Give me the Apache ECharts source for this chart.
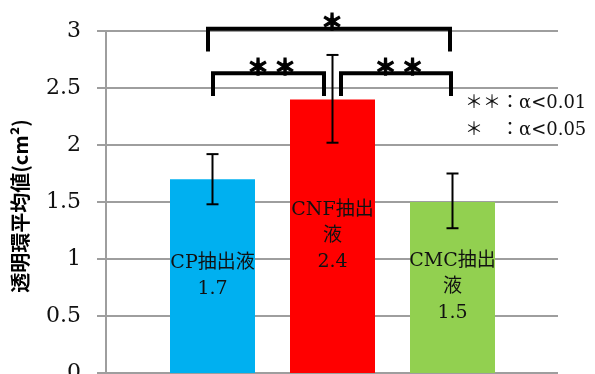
<!DOCTYPE html>
<html>
<head>
<meta charset="utf-8">
<script src="https://cdn.jsdelivr.net/npm/echarts@6/dist/echarts.min.js"></script>
<style>html,body{margin:0;padding:0;background:#fff;}#c{width:595px;height:374px;}</style>
</head>
<body>
<div id="c"></div>
<script>
// ---- data ----
var categories = ['CP抽出液', 'CNF抽出液', 'CMC抽出液'];
var values = [1.7, 2.4, 1.5];
var errLow = [1.48, 2.02, 1.27];
var errHigh = [1.92, 2.79, 1.75];
var barColors = ['#00B0F0', '#FF0000', '#92D050'];
var yTicks = [0, 0.5, 1, 1.5, 2, 2.5, 3];
// significance brackets: [fromIndex, toIndex, topValue, legValue]
var brackets = [[0, 2, 3.02, 2.82], [0, 1, 2.63, 2.43], [1, 2, 2.63, 2.43]];
var bracketMarks = ['＊', '＊ ＊', '＊ ＊'];
var legendLines = ['＊＊：α<0.01', '＊　：α<0.05'];

// ---- styling (pixel offsets of bracket ends) ----
var bracketOffsets = [[-4.5, -2.5], [0.5, -8.5], [8.5, -1.5]];

var serif = '"DejaVu Serif", "Liberation Serif", "Noto Sans CJK JP", serif';
var chart = echarts.init(document.getElementById('c'), null, {renderer: 'canvas'});

var option = {
  animation: false,
  grid: [
    {left: 106, top: 31, width: 452, height: 342, outerBoundsMode: 'none', containLabel: false},
    {left: 152.5, top: 31, width: 360, height: 342, outerBoundsMode: 'none', containLabel: false}
  ],
  xAxis: [
    {gridIndex: 0, type: 'value', min: 0, max: 1, show: false},
    {gridIndex: 1, type: 'category', data: categories, show: false}
  ],
  yAxis: [
    {
      gridIndex: 0, type: 'value', min: yTicks[0], max: yTicks[yTicks.length - 1], interval: 0.5,
      name: '透明環平均値(cm²)', nameLocation: 'middle', nameRotate: 90, nameGap: 76,
      nameTextStyle: {fontFamily: '"Noto Sans CJK JP", sans-serif', fontWeight: 'bold', fontSize: 20, color: '#000', padding: [0, 8, 0, 0]},
      axisLine: {show: true, lineStyle: {color: '#9e9e9e', width: 2}},
      axisTick: {show: true, length: 9, lineStyle: {color: '#9e9e9e', width: 2}},
      axisLabel: {margin: 25, fontFamily: serif, fontSize: 22, color: '#111',
        formatter: function (v) { return String(v); }},
      splitLine: {show: true, lineStyle: {color: '#9e9e9e', width: 2}}
    },
    {gridIndex: 1, type: 'value', min: 0, max: 3, show: false}
  ],
  graphic: [
    {type: 'text', left: 465, top: 94, style: {text: legendLines[0], font: '18px ' + serif, fill: '#111'}},
    {type: 'text', left: 465, top: 121, style: {text: legendLines[1], font: '18px ' + serif, fill: '#111'}}
  ],
  series: [
    {
      type: 'bar', xAxisIndex: 1, yAxisIndex: 1, barWidth: 85,
      data: values.map(function (v, i) { return {value: v, itemStyle: {color: barColors[i]}}; }),
      label: {
        show: true, position: 'inside', color: '#111', fontFamily: serif, fontSize: 19,
        lineHeight: 26, width: 92, overflow: 'break', align: 'center',
        formatter: function (p) { return categories[p.dataIndex] + '\n' + values[p.dataIndex]; }
      }
    },
    {
      type: 'custom', xAxisIndex: 1, yAxisIndex: 1, z: 10,
      data: categories.map(function (c, i) { return [i, errLow[i], errHigh[i]]; }),
      renderItem: function (params, api) {
        var lo = api.coord([api.value(0), api.value(1)]);
        var hi = api.coord([api.value(0), api.value(2)]);
        var w = 6;
        var st = {stroke: '#000', lineWidth: 2};
        return {type: 'group', children: [
          {type: 'line', shape: {x1: hi[0], y1: hi[1], x2: lo[0], y2: lo[1]}, style: st},
          {type: 'line', shape: {x1: hi[0] - w, y1: hi[1], x2: hi[0] + w, y2: hi[1]}, style: st},
          {type: 'line', shape: {x1: lo[0] - w, y1: lo[1], x2: lo[0] + w, y2: lo[1]}, style: st}
        ]};
      }
    },
    {
      type: 'custom', xAxisIndex: 1, yAxisIndex: 1, z: 11, clip: false,
      data: brackets,
      renderItem: function (params, api) {
        var i = params.dataIndex;
        var off = bracketOffsets[i];
        var a = api.coord([api.value(0), api.value(2)]);
        var b = api.coord([api.value(1), api.value(3)]);
        var x1 = a[0] + off[0], x2 = b[0] + off[1];
        var yt = a[1], yl = b[1];
        return {type: 'group', children: [
          {type: 'polyline', shape: {points: [[x1, yl], [x1, yt], [x2, yt], [x2, yl]]},
            style: {stroke: '#000', lineWidth: 4, fill: null, lineJoin: 'miter'}},
          {type: 'text', x: (x1 + x2) / 2 + 3, y: yt - 7,
            style: {text: bracketMarks[i], font: '900 22px "Noto Sans CJK JP", sans-serif', fill: '#000',
              stroke: '#000', lineWidth: 1.2, align: 'center', verticalAlign: 'middle'}}
        ]};
      }
    }
  ]
};
chart.setOption(option);
</script>
</body>
</html>
